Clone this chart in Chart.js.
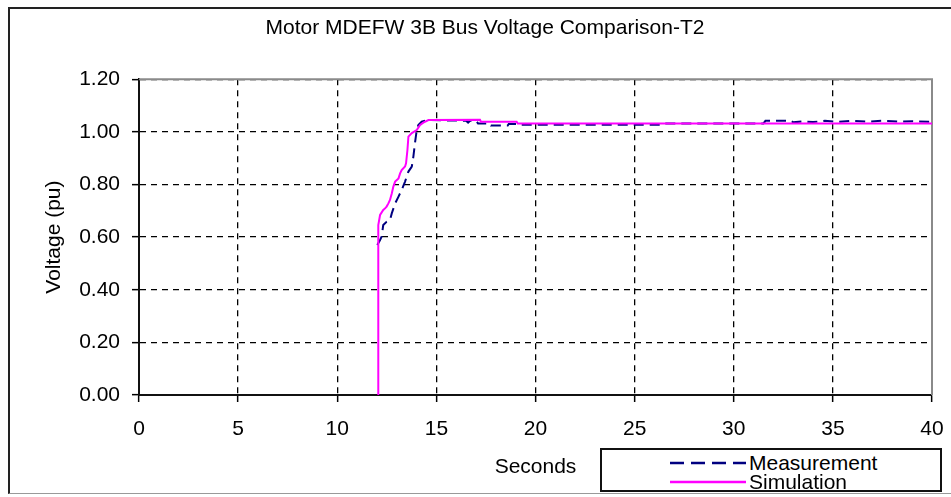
<!DOCTYPE html>
<html>
<head>
<meta charset="utf-8">
<script src="https://cdn.jsdelivr.net/npm/chart.js@4.4.1/dist/chart.umd.min.js"></script>
<style>
  html, body { margin: 0; padding: 0; background: #fff; }
  #wrap { position: relative; width: 951px; height: 497px; overflow: hidden; font-family: "Liberation Sans", Arial, sans-serif; }
  #frame { position: absolute; left: 8px; top: 7px; width: 960px; height: 487px;
           border-left: 2px solid #222; border-top: 2px solid #222; border-bottom: 1px solid #999; box-sizing: border-box; }
  #legend { position: absolute; left: 600px; top: 448px; width: 342px; height: 44px;
            border: 2px solid #111; box-sizing: border-box; background: #fff; }
  #legend .row { position: absolute; left: 68px; height: 20px; display: flex; align-items: center; font-size: 21px; color: #000; }
  #legend svg { width: 76px; height: 8px; margin-right: 3px; }
  canvas { position: absolute; left: 0; top: 0; }
</style>
</head>
<body>
<div id="wrap">
  <div id="frame"></div>
  <canvas id="c" width="951" height="497"></canvas>
  <div id="legend"></div>
</div>
<script>
"use strict";

// Motor MDEFW 3B bus voltage: measured vs simulated, voltage (pu) over time (s).

const TITLE = "Motor MDEFW 3B Bus Voltage Comparison-T2";
const X_TITLE = "Seconds";
const Y_TITLE = "Voltage (pu)";
const X_TICKS = [0, 5, 10, 15, 20, 25, 30, 35, 40];
const Y_TICKS = [0, 0.2, 0.4, 0.6, 0.8, 1.0, 1.2];

// measurement trace
const measT = [12.02, 12.16, 12.24, 12.32, 12.49, 12.66, 12.75, 12.92, 13.09, 13.25, 13.42, 13.59,
  13.76, 13.84, 13.92, 14.01, 14.09, 14.26, 14.60, 16.5, 16.6, 16.7, 17.0, 17.1, 17.7, 17.75, 18.6,
  18.65, 19.1, 19.15, 26.4, 26.5, 31.5, 31.6, 32.9, 33.0, 33.5, 34.0, 34.6, 35.2, 36.0, 36.8, 37.5,
  38.3, 39.0, 40.0];
const measV = [0.570, 0.589, 0.602, 0.646, 0.658, 0.665, 0.690, 0.728, 0.754, 0.779, 0.811, 0.849,
  0.868, 0.906, 0.957, 1.007, 1.026, 1.039, 1.045, 1.042, 1.035, 1.042, 1.042, 1.032, 1.032, 1.024, 1.024,
  1.030, 1.030, 1.027, 1.027, 1.032, 1.032, 1.042, 1.042, 1.036, 1.040, 1.037, 1.042, 1.038, 1.042, 1.039, 1.042,
  1.039, 1.040, 1.038];

// simulation trace
const simT = [12.07, 12.07, 12.16, 12.32, 12.41, 12.49, 12.58, 12.66, 12.75, 12.83, 12.92, 13.09, 13.17,
  13.25, 13.42, 13.47, 13.54, 13.59, 13.76, 14.01, 14.18, 14.34, 14.60, 17.2, 17.25, 19.05, 19.1, 40.0];
const simV = [0.000, 0.646, 0.684, 0.703, 0.709, 0.716, 0.728, 0.741, 0.766, 0.792, 0.811, 0.823, 0.842,
  0.855, 0.868, 0.880, 0.931, 0.982, 0.995, 1.007, 1.026, 1.035, 1.045, 1.046, 1.038, 1.038, 1.032, 1.032];

const SERIES = [
  { label: "Measurement", t: measT, v: measV, color: "#000080", dash: [10, 6], order: 2 },
  { label: "Simulation",  t: simT,  v: simV,  color: "#ff00ff", dash: [],      order: 1 },
];

const FONT = { family: "'Liberation Sans', Arial, sans-serif", size: 21, weight: "normal" };

// gray frame on top/right of the plot area, like the Excel plot border
const plotFrame = {
  id: "plotFrame",
  beforeDatasetsDraw(chart) {
    const { ctx, chartArea: a } = chart;
    ctx.save();
    ctx.strokeStyle = "#8a8a8a";
    ctx.lineWidth = 2;
    ctx.beginPath();
    ctx.moveTo(a.left, a.top);
    ctx.lineTo(a.right, a.top);
    ctx.lineTo(a.right, a.bottom);
    ctx.stroke();
    ctx.restore();
  }
};

const axisCommon = (min, max, step, fmt) => ({
  type: "linear", min, max,
  ticks: { stepSize: step, color: "#000", font: FONT, maxRotation: 0, callback: fmt },
  grid: { color: "#000", lineWidth: 1.3, tickLength: 7, tickColor: "#000", tickWidth: 1.5, tickBorderDash: [] },
  border: { display: true, color: "#111", width: 2, dash: [6, 5] },
  title: { display: true, color: "#000", font: FONT, padding: { top: 4, bottom: 4 } },
});

const xAxis = axisCommon(X_TICKS[0], X_TICKS[X_TICKS.length - 1], X_TICKS[1] - X_TICKS[0], v => String(v));
xAxis.ticks.padding = 15;
xAxis.title.text = X_TITLE;
// fixed height; the end labels may hang into the layout padding
xAxis.afterFit = s => { s.height = 89; s.paddingLeft = 0; s.paddingRight = 0; };

const yAxis = axisCommon(Y_TICKS[0], Y_TICKS[Y_TICKS.length - 1], 0.2, v => Number(v).toFixed(2));
yAxis.ticks.padding = 12;
yAxis.title.text = Y_TITLE;
yAxis.afterFit = s => { s.width = 101; };

new Chart(document.getElementById("c"), {
  type: "line",
  data: {
    datasets: SERIES.map(s => ({
      label: s.label,
      data: s.t.map((t, i) => ({ x: t, y: s.v[i] })),
      borderColor: s.color,
      borderDash: s.dash,
      borderWidth: 2,
      pointRadius: 0,
      tension: 0,
      fill: false,
      order: s.order,
    })),
  },
  options: {
    responsive: false,
    animation: false,
    layout: { padding: { left: 38, right: 19, top: 0, bottom: 13 } },
    plugins: {
      legend: { display: false },
      tooltip: { enabled: false },
      title: { display: true, text: TITLE, color: "#000", font: FONT, padding: { top: 16, bottom: 38 } },
    },
    scales: { x: xAxis, y: yAxis },
  },
  plugins: [plotFrame],
});

// legend box, bottom right
const leg = document.getElementById("legend");
leg.innerHTML = SERIES.map((s, i) =>
  `<div class="row" style="top:${3 + i * 19}px">
     <svg viewBox="0 0 76 8"><line x1="0" y1="4" x2="76" y2="4" stroke="${s.color}" stroke-width="2.5"
       ${s.dash.length ? `stroke-dasharray="14 7"` : ""}/></svg>${s.label}</div>`
).join("");
</script>
</body>
</html>
